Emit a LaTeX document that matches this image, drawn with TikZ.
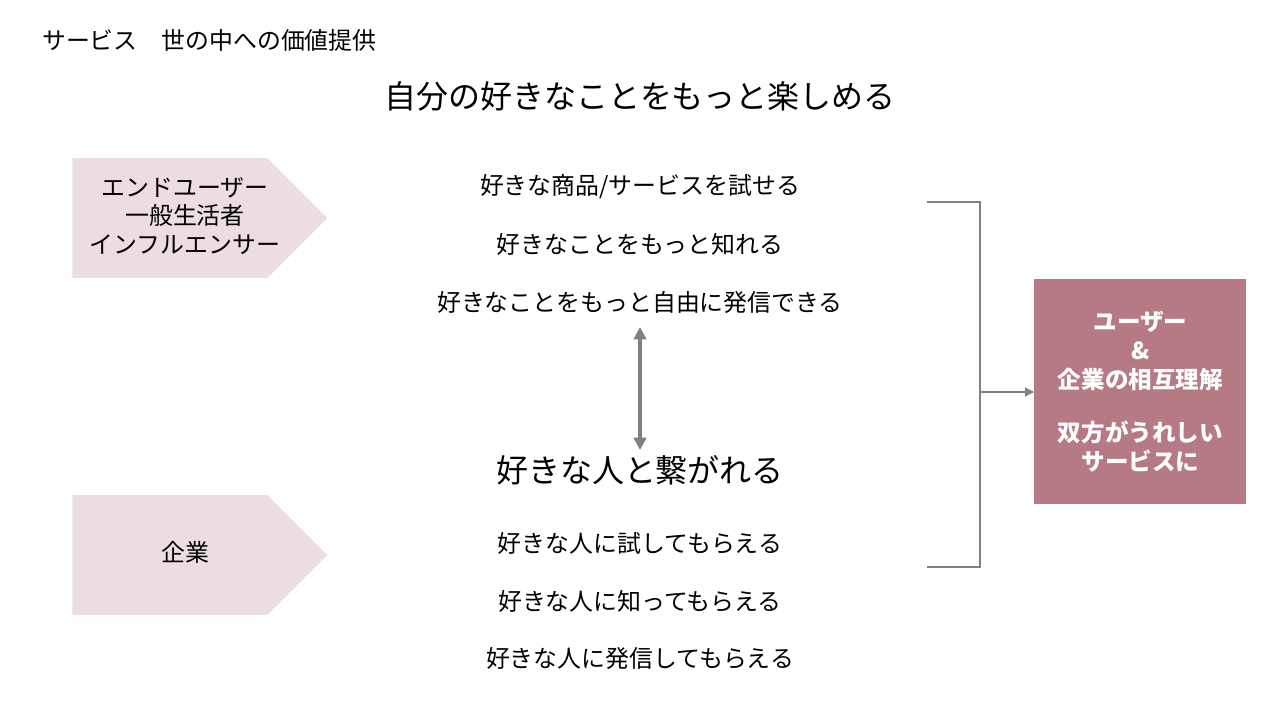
\documentclass[tikz,border=0pt]{standalone}
\usepackage{fontspec}
\setmainfont{Noto Sans CJK JP}
\usepackage{xcolor}
\usetikzlibrary{shapes.symbols, arrows.meta, positioning}
\definecolor{pentpink}{RGB}{235,221,224}
\definecolor{boxrose}{RGB}{181,122,132}
\definecolor{linegray}{RGB}{128,128,128}

\begin{document}
\begin{tikzpicture}[x=0.02cm, y=-0.02cm,
    actor/.style={signal, signal to=east, signal pointer angle=90, fill=pentpink, minimum width=5.1cm, minimum height=2.4cm, inner sep=0pt},
    actortext/.style={align=center, inner sep=1pt, font=\fontsize{13.6}{16}\selectfont},
    item/.style={font=\fontsize{13.6}{16}\selectfont, inner sep=1pt},
    heading/.style={font=\fontsize{18.2}{21}\selectfont, inner sep=1pt},
    result/.style={rectangle, fill=boxrose, text=white, minimum width=4.24cm, minimum height=4.5cm, align=center, font=\bfseries\fontsize{13.4}{16.5}\selectfont},
    bracket/.style={draw=linegray, line width=0.6pt},
    arr/.style={-{Triangle[length=5pt, width=5pt]}, draw=linegray, line width=0.6pt},
    biarr/.style={{Triangle[length=7pt, width=7pt]}-{Triangle[length=7pt, width=7pt]}, draw=linegray, line width=2.2pt}
]
\useasboundingbox (0,0) rectangle (1280,720);

% Title
\node[item, anchor=west] (title) at (40,40) {サービス　世の中への価値提供};
\node[heading] (goal) at (640,96) {自分の好きなことをもっと楽しめる};

% Actors
\node[actor, anchor=west] (user) at (72,218) {};
\node[actortext] (usertext) at (185,216) {エンドユーザー\\一般生活者\\インフルエンサー};
\node[actor, anchor=west] (corp) at (72,555) {};
\node[actortext] (corptext) at (185,552) {企業};

% Values for users
\node[item] (try) at (640,187) {好きな商品/サービスを試せる};
\node[item] (know) at (640,244) {好きなことをもっと知れる};
\node[item] (send) at (640,302) {好きなことをもっと自由に発信できる};

% Connection
\node[heading] (link) at (640,470) {好きな人と繋がれる};
\draw[biarr] (640,327) coordinate (up) -- (640,450) coordinate (dn);

% Values for companies
\node[item] (ctry) at (640,543) {好きな人に試してもらえる};
\node[item] (cknow) at (640,601) {好きな人に知ってもらえる};
\node[item] (csend) at (640,658) {好きな人に発信してもらえる};

% Result
\node[result, anchor=north west] (mutual) at (1034,279) {ユーザー\\\&\\企業の相互理解\\[14pt]双方がうれしい\\サービスに};

\coordinate (btop) at (927,202);
\coordinate (bbot) at (927,567);
\coordinate (bmid) at (980,392);
\draw[bracket] (btop) -| (bmid) |- (bbot);
\draw[arr] (bmid) -- (bmid -| mutual.west);
\end{tikzpicture}
\end{document}
